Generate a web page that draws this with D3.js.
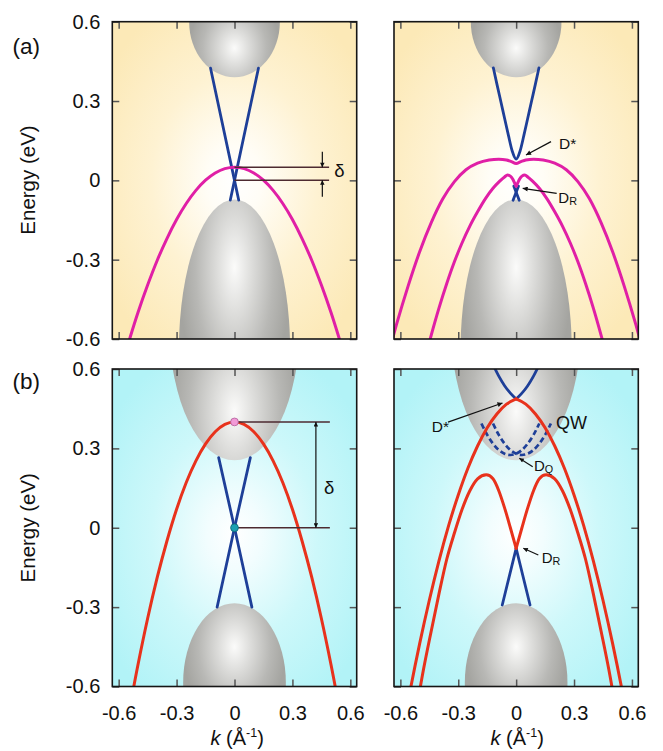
<!DOCTYPE html>
<html><head><meta charset="utf-8">
<script src="https://cdn.jsdelivr.net/npm/d3@7"></script>
<style>
body{margin:0;background:#fff}
svg{display:block}
text{font-family:"Liberation Sans",Arial,Helvetica,sans-serif;fill:#111}
</style>
</head><body>
<svg id="c" width="663" height="751"></svg>
<script>
// ---------- tick data ----------
const kTicks = [-0.6,-0.3,0,0.3,0.6];
const eTicks = [-0.6,-0.3,0,0.3,0.6];
const kTickLabels = ["-0.6","-0.3","0","0.3","0.6"];
const eTickLabels = ["-0.6","-0.3","0","0.3","0.6"];
const kDomain = [-0.633,0.633];
const eDomain = [-0.6,0.6];

// ---------- bulk band ellipses: [centerE, halfWidthK, halfHeightE, highlightE] ----------
const aBulkCB = [0.6, 0.235, 0.21, 0.5];
const aBulkVB = [-0.641, 0.288, 0.569, -0.33];
const bBulkCB = [0.755, 0.336, 0.5, 0.44];
const bBulkVB = [-0.585, 0.266, 0.3, -0.45];

// ---------- panel (a) left ----------
const a1BandK = [-0.56,-0.5,-0.45,-0.4,-0.35,-0.3,-0.25,-0.2,-0.15,-0.1,-0.05,0,0.05,0.1,0.15,0.2,0.25,0.3,0.35,0.4,0.45,0.5,0.56];
const a1BandE = [-0.64,-0.5,-0.396,-0.302,-0.22,-0.148,-0.0875,-0.038,0.0005,0.028,0.0445,0.05,0.0445,0.028,0.0005,-0.038,-0.0875,-0.148,-0.22,-0.302,-0.396,-0.5,-0.64];
const a1DiracK1 = [-0.124,0,0.022];
const a1DiracK2 = [0.124,0,-0.022];
const a1DiracE  = [0.424,0,-0.075];
const a1DeltaE = [0.05, 0];

// ---------- panel (a) right ----------
const a2UpperK = [-0.118,-0.1,-0.08,-0.06,-0.04,-0.02,0,0.02,0.04,0.06,0.08,0.1,0.118];
const a2UpperE = [0.425,0.365,0.3,0.235,0.17,0.11,0.08,0.11,0.17,0.235,0.3,0.365,0.425];
const a2OuterK = [-0.66,-0.62,-0.56,-0.5,-0.44,-0.38,-0.32,-0.26,-0.2,-0.14,-0.09,-0.05,-0.025,0,0.025,0.05,0.09,0.14,0.2,0.26,0.32,0.38,0.44,0.5,0.56,0.62,0.66];
const a2OuterE = [-0.65,-0.545,-0.4,-0.27,-0.16,-0.07,-0.005,0.04,0.065,0.077,0.08,0.077,0.071,0.064,0.071,0.077,0.08,0.077,0.065,0.04,-0.005,-0.07,-0.16,-0.27,-0.4,-0.545,-0.65];
const a2InnerK = [-0.47,-0.44,-0.4,-0.36,-0.32,-0.28,-0.24,-0.2,-0.16,-0.12,-0.085,-0.06,-0.045,-0.03,-0.018,-0.008,0];
const a2InnerE = [-0.667,-0.585,-0.483,-0.391,-0.308,-0.236,-0.173,-0.119,-0.07,-0.03,-0.003,0.013,0.02,0.016,0.005,-0.01,-0.022];
const a2LowK1 = [-0.012,0.016];
const a2LowK2 = [0.012,-0.016];
const a2LowE  = [-0.022,-0.075];

// ---------- panel (b) left ----------
const b1BandK = [-0.56,-0.5,-0.45,-0.4,-0.35,-0.3,-0.25,-0.2,-0.15,-0.1,-0.05,0,0.05,0.1,0.15,0.2,0.25,0.3,0.35,0.4,0.45,0.5,0.56];
const b1BandE = [-0.751,-0.518,-0.343,-0.187,-0.05,0.07,0.171,0.253,0.317,0.363,0.391,0.4,0.391,0.363,0.317,0.253,0.171,0.07,-0.05,-0.187,-0.343,-0.518,-0.751];
const b1DiracK1 = [-0.082,0,0.09];
const b1DiracK2 = [0.082,0,-0.09];
const b1DiracE  = [0.265,0,-0.3];
const b1DeltaE = [0.4, 0];

// ---------- panel (b) right ----------
const b2UpperK = [-0.14,-0.12,-0.09,-0.06,-0.03,0];
const b2UpperE = [0.649,0.617,0.573,0.537,0.509,0.487];
const b2OuterK = [-0.57,-0.55,-0.5,-0.45,-0.4,-0.35,-0.3,-0.25,-0.2,-0.15,-0.1,-0.05,0];
const b2OuterE = [-0.695,-0.618,-0.438,-0.274,-0.125,0.008,0.124,0.225,0.309,0.378,0.43,0.467,0.487];
const b2InnerK = [-0.52,-0.48,-0.44,-0.4,-0.36,-0.32,-0.28,-0.24,-0.2,-0.155,-0.12,-0.09,-0.06,-0.03,0];
const b2InnerE = [-0.70,-0.535,-0.39,-0.25,-0.12,-0.02,0.07,0.14,0.185,0.2,0.185,0.14,0.075,0.0,-0.078];
const b2LowK = [0,0.072];
const b2LowE = [-0.078,-0.292];
const b2QwK = [-0.18,-0.15,-0.12,-0.09,-0.06,-0.03,0,0.03,0.06,0.09,0.12];
const b2QwE = [0.394,0.351,0.318,0.294,0.28,0.275,0.28,0.294,0.318,0.351,0.394];

// ---------- colours ----------
const BLUE = "#1e3f98", MAG = "#e01fa6", RED = "#e8321c", DLINE = "#4d2a30";

const svg = d3.select("#c");
const defs = svg.append("defs");

function radial(id, cx, cy, r, stops, units) {
  const g = defs.append("radialGradient").attr("id", id)
    .attr("cx", cx).attr("cy", cy).attr("r", r);
  if (units) g.attr("gradientUnits", units);
  stops.forEach(s => g.append("stop").attr("offset", s[0]).attr("stop-color", s[1]));
}
radial("gYel", 0.5, 0.5, 0.62, [[0,"#ffffff"],[0.18,"#fffdf6"],[0.55,"#fef2d2"],[1,"#fce9b7"]]);
radial("gCyan", 0.5, 0.52, 0.62, [[0,"#ffffff"],[0.18,"#f2fdfe"],[0.55,"#cdf8fa"],[1,"#b2f3f7"]]);

const marker = (id, w, l) => {
  defs.append("marker").attr("id", id).attr("viewBox", "0 0 10 10")
    .attr("refX", 10).attr("refY", 5).attr("markerWidth", l).attr("markerHeight", w)
    .attr("markerUnits", "userSpaceOnUse").attr("orient", "auto-start-reverse")
    .append("path").attr("d", "M0,0 L10,5 L0,10 z").attr("fill", "#111");
};
marker("arr", 5, 8);
marker("arrS", 4.5, 6);

let gradCount = 0;
function makePanel(xr, yr, bg) {
  const x = d3.scaleLinear().domain(kDomain).range(xr);
  const y = d3.scaleLinear().domain(eDomain).range([yr[1], yr[0]]);
  const g = svg.append("g");
  const cid = "clip" + (gradCount++);
  defs.append("clipPath").attr("id", cid).append("rect")
    .attr("x", xr[0]).attr("y", yr[0]).attr("width", xr[1]-xr[0]).attr("height", yr[1]-yr[0]);
  g.append("rect").attr("x", xr[0]).attr("y", yr[0]).attr("width", xr[1]-xr[0]).attr("height", yr[1]-yr[0])
    .attr("fill", "url(#" + bg + ")");
  const content = g.append("g").attr("clip-path", "url(#" + cid + ")");
  return {x, y, g, content, xr, yr};
}

function bulk(P, b) {
  const id = "gb" + (gradCount++);
  const cyFrac = (b[0] + b[2] - b[3]) / (2*b[2]);
  radial(id, 0.5, cyFrac, 0.5, [[0,"#fbfbfa"],[0.3,"#dededc"],[0.7,"#b8b8b5"],[1,"#a4a4a0"]]);
  P.content.append("ellipse")
    .attr("cx", P.x(0)).attr("cy", P.y(b[0]))
    .attr("rx", P.x(b[1]) - P.x(0)).attr("ry", P.y(0) - P.y(b[2]))
    .attr("fill", "url(#" + id + ")");
}

function curve(P, ks, es, color, w, opts) {
  opts = opts || {};
  const pts = ks.map((k,i) => [k, es[i]]);
  pts.sort((a,b) => a[0]-b[0]);
  const line = d3.line().x(d => P.x(d[0])).y(d => P.y(d[1]))
    .curve(opts.linear ? d3.curveLinear : d3.curveMonotoneX);
  const p = P.content.append("path").attr("d", line(pts)).attr("fill", "none")
    .attr("stroke", color).attr("stroke-width", w).attr("stroke-linecap", "round").attr("stroke-linejoin", "round");
  if (opts.dash) p.attr("stroke-dasharray", opts.dash).attr("stroke-linecap", "butt");
}
const neg = a => a.map(v => -v);

function frameAndAxes(P, showK, showE) {
  const tickStyle = sel => {
    sel.select(".domain").remove();
    sel.attr("font-size", null).attr("font-family", null);
    sel.selectAll(".tick line").attr("stroke", "#555").attr("stroke-width", 1.5);
    sel.selectAll(".tick text").style("font-size", "20px").attr("fill", "#111");
  };
  P.g.append("g").attr("transform", `translate(0,${P.yr[1]})`)
    .call(d3.axisBottom(P.x).tickValues(kTicks).tickSizeInner(-7).tickSizeOuter(0).tickPadding(19.5)
      .tickFormat((d,i) => showK ? kTickLabels[i] : "")).call(tickStyle);
  P.g.append("g").attr("transform", `translate(0,${P.yr[0]})`)
    .call(d3.axisTop(P.x).tickValues(kTicks).tickSizeInner(-7).tickSizeOuter(0).tickFormat(() => "")).call(tickStyle);
  P.g.append("g").attr("transform", `translate(${P.xr[0]},0)`)
    .call(d3.axisLeft(P.y).tickValues(eTicks).tickSizeInner(-7).tickSizeOuter(0).tickPadding(12)
      .tickFormat((d,i) => showE ? eTickLabels[i] : "")).call(tickStyle);
  P.g.append("g").attr("transform", `translate(${P.xr[1]},0)`)
    .call(d3.axisRight(P.y).tickValues(eTicks).tickSizeInner(-7).tickSizeOuter(0).tickFormat(() => "")).call(tickStyle);
  P.g.append("rect").attr("x", P.xr[0]).attr("y", P.yr[0])
    .attr("width", P.xr[1]-P.xr[0]).attr("height", P.yr[1]-P.yr[0])
    .attr("fill", "none").attr("stroke", "#151515").attr("stroke-width", 1.6);
}

function arrow(P, k0, e0, k1, e1, m, w) {
  P.g.append("line").attr("x1", P.x(k0)).attr("y1", P.y(e0)).attr("x2", P.x(k1)).attr("y2", P.y(e1))
    .attr("stroke", "#111").attr("stroke-width", w || 1.3).attr("marker-end", "url(#" + (m || "arr") + ")");
}
function label(P, k, e, main, sub, size) {
  const t = P.g.append("text").attr("x", P.x(k)).attr("y", P.y(e)).style("font-size", size + "px").text(main);
  if (sub) t.append("tspan").attr("dy", 2).style("font-size", (size*0.72) + "px").text(sub);
  return t;
}

const XL = [112.3, 356.7], XR = [394, 638.3], YT = [21.7, 339], YB = [369, 686.5];

// ===== (a) left =====
const A1 = makePanel(XL, YT, "gYel");
bulk(A1, aBulkCB); bulk(A1, aBulkVB);
curve(A1, a1DiracK1, a1DiracE, BLUE, 2.8, {linear:true});
curve(A1, a1DiracK2, a1DiracE, BLUE, 2.8, {linear:true});
curve(A1, a1BandK, a1BandE, MAG, 3);
frameAndAxes(A1, false, true);
a1DeltaE.forEach(e => A1.g.append("line").attr("x1", A1.x(0)).attr("x2", A1.x(0.49))
  .attr("y1", A1.y(e)).attr("y2", A1.y(e)).attr("stroke", DLINE).attr("stroke-width", 1.5));
arrow(A1, 0.455, 0.108, 0.455, a1DeltaE[0], "arrS", 1.2);
arrow(A1, 0.455, -0.062, 0.455, a1DeltaE[1], "arrS", 1.2);
A1.g.append("text").attr("x", A1.x(0.517)).attr("y", A1.y(0.0127)).style("font-size", "18.5px").text("δ");

// ===== (a) right =====
const A2 = makePanel(XR, YT, "gYel");
bulk(A2, aBulkCB); bulk(A2, aBulkVB);
curve(A2, a2UpperK, a2UpperE, BLUE, 2.8);
curve(A2, a2LowK1, a2LowE, BLUE, 2.8, {linear:true});
curve(A2, a2LowK2, a2LowE, BLUE, 2.8, {linear:true});
curve(A2, a2OuterK, a2OuterE, MAG, 3);
curve(A2, a2InnerK, a2InnerE, MAG, 3);
curve(A2, neg(a2InnerK), a2InnerE, MAG, 3);
frameAndAxes(A2, false, false);
arrow(A2, 0.1806, 0.1462, 0.051, 0.0959);
label(A2, 0.222, 0.1174, "D*", null, 15.5);
arrow(A2, 0.210, -0.049, 0.034, -0.0302);
label(A2, 0.2184, -0.0845, "D", "R", 15);

// ===== (b) left =====
const B1 = makePanel(XL, YB, "gCyan");
bulk(B1, bBulkCB); bulk(B1, bBulkVB);
curve(B1, b1DiracK1, b1DiracE, BLUE, 2.8, {linear:true});
curve(B1, b1DiracK2, b1DiracE, BLUE, 2.8, {linear:true});
curve(B1, b1BandK, b1BandE, RED, 3);
frameAndAxes(B1, true, true);
b1DeltaE.forEach(e => B1.g.append("line").attr("x1", B1.x(0)).attr("x2", B1.x(0.494))
  .attr("y1", B1.y(e)).attr("y2", B1.y(e)).attr("stroke", DLINE).attr("stroke-width", 1.5));
B1.g.append("line").attr("x1", B1.x(0.4216)).attr("x2", B1.x(0.4216))
  .attr("y1", B1.y(b1DeltaE[1])).attr("y2", B1.y(b1DeltaE[0]))
  .attr("stroke", "#111").attr("stroke-width", 1.2)
  .attr("marker-start", "url(#arrS)").attr("marker-end", "url(#arrS)");
B1.g.append("text").attr("x", B1.x(0.4636)).attr("y", B1.y(0.1264)).style("font-size", "18.5px").text("δ");
B1.g.append("circle").attr("cx", B1.x(0)).attr("cy", B1.y(b1DeltaE[0])).attr("r", 3.9)
  .attr("fill", "#f29ad6").attr("stroke", "#b0609a").attr("stroke-width", 0.8);
B1.g.append("circle").attr("cx", B1.x(0)).attr("cy", B1.y(b1DeltaE[1])).attr("r", 3.9)
  .attr("fill", "#1aa0b2").attr("stroke", "#0e6472").attr("stroke-width", 0.8);

// ===== (b) right =====
const B2 = makePanel(XR, YB, "gCyan");
bulk(B2, bBulkCB); bulk(B2, bBulkVB);
curve(B2, b2QwK, b2QwE, BLUE, 2.7, {dash:"5.5,3"});
curve(B2, neg(b2QwK), b2QwE, BLUE, 2.7, {dash:"5.5,3"});
curve(B2, b2UpperK, b2UpperE, BLUE, 2.8);
curve(B2, neg(b2UpperK), b2UpperE, BLUE, 2.8);
curve(B2, b2LowK, b2LowE, BLUE, 2.8, {linear:true});
curve(B2, neg(b2LowK), b2LowE, BLUE, 2.8, {linear:true});
curve(B2, b2OuterK, b2OuterE, RED, 3);
curve(B2, neg(b2OuterK), b2OuterE, RED, 3);
curve(B2, b2InnerK, b2InnerE, RED, 3);
curve(B2, neg(b2InnerK), b2InnerE, RED, 3);
frameAndAxes(B2, true, false);
arrow(B2, -0.353, 0.3989, -0.0707, 0.4715);
label(B2, -0.4376, 0.3607, "D*", null, 15.5);
B2.g.append("text").attr("x", B2.x(0.2065)).attr("y", B2.y(0.3732)).style("font-size", "18px").text("QW");
arrow(B2, 0.0858, 0.2307, 0.0163, 0.2625, "arrS", 1.2);
label(B2, 0.0925, 0.2156, "D", "Q", 15);
arrow(B2, 0.1148, -0.103, 0.037, -0.0777, "arrS", 1.2);
label(B2, 0.1324, -0.1344, "D", "R", 15);

// ===== titles =====
[180, 527.75].forEach(cy => svg.append("text")
  .attr("transform", `translate(35,${cy}) rotate(-90)`).attr("text-anchor", "middle")
  .style("font-size", "20.5px").text("Energy (eV)"));
[[210.5],[490.5]].forEach(([sx]) => {
  const t = svg.append("text").attr("x", sx).attr("y", 744.5).style("font-size", "20px");
  t.append("tspan").style("font-style", "italic").text("k");
  t.append("tspan").text(" (Å");
  t.append("tspan").attr("dy", -7.5).style("font-size", "12.5px").text("-1");
  t.append("tspan").attr("dy", 7.5).text(")");
});
svg.append("text").attr("x", 12.5).attr("y", 54).style("font-size", "22.5px").text("(a)");
svg.append("text").attr("x", 12.5).attr("y", 389).style("font-size", "22.5px").text("(b)");
</script>
</body></html>
